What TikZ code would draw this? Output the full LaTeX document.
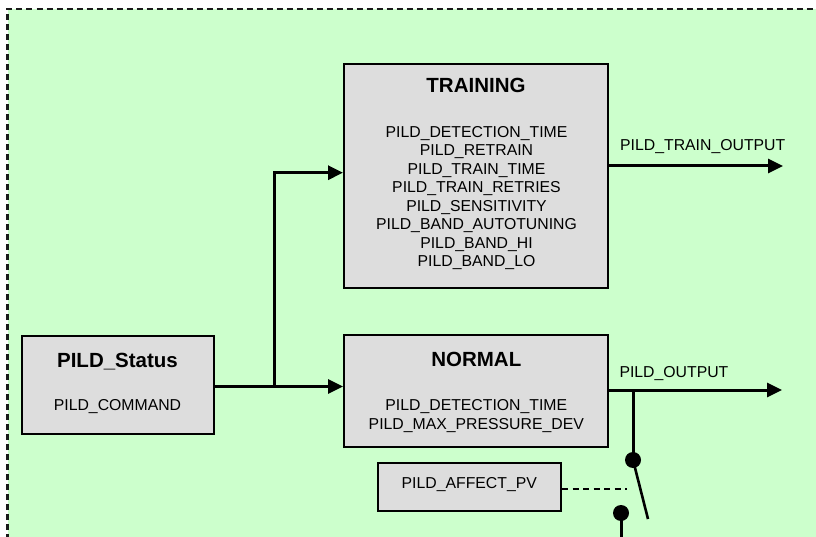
\documentclass[tikz,border=0pt]{standalone}
\usepackage{fontspec}
\setmainfont{Liberation Sans}
\usetikzlibrary{arrows.meta}
\definecolor{panelgreen}{HTML}{CCFFCC}
\definecolor{boxgrey}{HTML}{DDDDDD}
\definecolor{rimdark}{HTML}{1A1A1A}
\tikzset{
  statebox/.style={draw=black, fill=boxgrey, line width=2pt, rectangle, inner sep=0pt},
  titletext/.style={font=\fontsize{20.5}{24}\selectfont\bfseries, anchor=base, inner sep=0pt},
  bodytext/.style={font=\fontsize{15.8}{18.5}\selectfont, anchor=base, inner sep=0pt},
  flow/.style={line width=3pt, -{Triangle[length=15pt,width=14pt]}},
  wire/.style={line width=3pt},
  contact/.style={circle, fill=black, minimum size=16pt, inner sep=0pt},
}
\begin{document}
\begin{tikzpicture}[x=1pt, y=-1pt]
\useasboundingbox (0,0) rectangle (816,537);
\clip (0,0) rectangle (816,537);

% panel background with dashed rim
\fill[panelgreen] (7.5,9) rectangle (830,550);
\draw[rimdark, line width=2.2pt, dash pattern=on 6pt off 4pt] (7.5,550) -- (7.5,9) -- (830,9);

% state boxes
\node[statebox, minimum width=264pt, minimum height=224pt] (training) at (476,176) {};
\node[statebox, minimum width=264pt, minimum height=112pt] (normal) at (476,391) {};
\node[statebox, minimum width=192pt, minimum height=98pt] (status) at (118,385) {};
\node[statebox, minimum width=183pt, minimum height=48pt] (affect) at (469.5,487) {};

% box texts
\node[titletext] (trtitle) at (476,92.3) {TRAINING};
\foreach \txt [count=\i from 0] in {PILD\_DETECTION\_TIME, PILD\_RETRAIN, PILD\_TRAIN\_TIME,
    PILD\_TRAIN\_RETRIES, PILD\_SENSITIVITY, PILD\_BAND\_AUTOTUNING, PILD\_BAND\_HI, PILD\_BAND\_LO}
  \node[bodytext] (trline\i) at (476.5,137.4+18.47*\i) {\txt};

\node[titletext] (nmtitle) at (476.3,366.3) {NORMAL};
\node[bodytext] (nmline0) at (476.3,410.5) {PILD\_DETECTION\_TIME};
\node[bodytext] (nmline1) at (476.3,429.2) {PILD\_MAX\_PRESSURE\_DEV};

\node[titletext] (sttitle) at (117.5,367) {PILD\_Status};
\node[bodytext] (stline) at (117.5,410.7) {PILD\_COMMAND};

\node[bodytext] (afline) at (469.3,488.5) {PILD\_AFFECT\_PV};

% junctions and free ends
\coordinate (split) at (274,386.5);
\coordinate (uptr) at (274,172.7);
\coordinate (trout) at (783,166);
\coordinate (nmout) at (782,390);
\coordinate (tap) at (633,390);
\coordinate (swend) at (648,519);
\coordinate (dashend) at (627,489);
\coordinate (lowend) at (621,550);

\node[contact] (dotA) at (633,460) {};
\node[contact] (dotB) at (621,513) {};

% status fan-out
\draw[wire] (status.east |- split) -- (split);
\draw[flow] (split) -- (normal.west |- split);
\draw[flow] (split) -- (uptr) -- (training.west |- uptr);

% outputs
\draw[flow] (training.east |- trout) -- (trout);
\node[bodytext, anchor=base west] (troutlbl) at (620,151) {PILD\_TRAIN\_OUTPUT};
\draw[flow] (normal.east |- nmout) -- (nmout);
\node[bodytext, anchor=base west] (nmoutlbl) at (619.3,377.2) {PILD\_OUTPUT};

% switch
\draw[wire] (tap) -- (dotA.center);
\draw[line width=2.6pt] (dotA.center) -- (swend);
\draw[wire] (dotB.center) -- (lowend);
\draw[line width=2pt, dash pattern=on 6pt off 4.5pt] (affect.east |- dashend) -- (dashend);
\end{tikzpicture}
\end{document}
